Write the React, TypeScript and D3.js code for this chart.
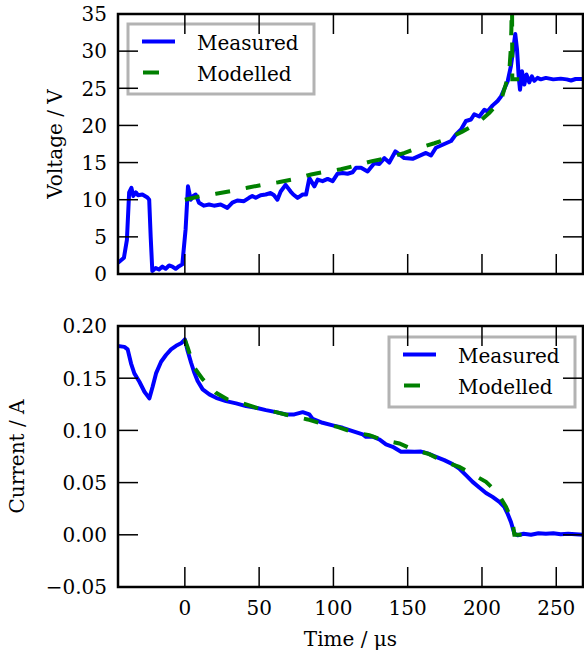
import * as d3 from 'd3';
import React from 'react';

// ---- data ----
const timeVMeasured = [-45, -41, -39, -37.5, -36, -34.7, -33, -31.5, -28.6, -25.2, -24, -23, -21.9, -19.6, -17.4, -15.1, -12.9, -10.6, -8.4, -6.2, -3.9, -1.7, 0.5, 2.1, 3.9, 5.7, 7.3, 9.5, 12.9, 16.3, 19.6, 24.1, 28.6, 32, 35.3, 39.8, 43.2, 45.4, 47.7, 51, 54.4, 57.8, 60, 62.3, 64.5, 67.8, 71.2, 73, 75.9, 79.3, 81.6, 83.8, 87.2, 89.4, 92.7, 96.1, 99.5, 102.8, 106.2, 109.5, 112.9, 115.2, 118.6, 123, 127.5, 130.9, 134.3, 137.6, 141.7, 144.4, 147.7, 153.3, 157.8, 162.3, 165.7, 169, 172.4, 175.8, 179.2, 182.5, 185.9, 189.2, 192.6, 194.8, 198.2, 201.6, 203.8, 207.2, 210.5, 212.8, 215, 217.3, 219.5, 221, 222.4, 223.6, 224.7, 225.6, 226.9, 228.5, 230, 231.8, 233.6, 235.2, 237.4, 239.6, 243, 248, 253, 257, 260, 263, 268];
const voltageMeasured = [1.5, 2.2, 4.6, 11, 11.6, 10.5, 11, 10.6, 10.7, 10.3, 10, 5, 0.4, 0.8, 0.6, 1.0, 0.7, 1.15, 1.0, 0.7, 1.05, 1.3, 6, 11.8, 10, 10.5, 10.7, 9.6, 9.2, 9.35, 9.2, 9.35, 8.9, 9.6, 9.9, 9.8, 10.25, 10.5, 10.25, 10.6, 10.7, 10.9, 10.6, 10.0, 11.1, 12.0, 11.1, 10.7, 10.25, 10.7, 10.7, 12.9, 11.8, 12.7, 12.5, 12.8, 12.5, 13.5, 13.6, 13.5, 13.7, 14.3, 14.3, 13.8, 14.9, 14.8, 15.6, 15.0, 16.5, 16.1, 15.6, 15.5, 15.9, 16.3, 15.95, 17.0, 17.3, 17.6, 17.9, 18.8, 19.45, 20.6, 20.8, 21.5, 21.2, 22.1, 21.9, 22.7, 23.3, 23.9, 24.9, 25.95, 28, 30.2, 32.3, 30.2, 26.6, 24.8, 27.3, 25.5, 26.85, 25.8, 26.6, 26.0, 26.4, 26.2, 26.4, 26.2, 26.3, 26.2, 26.05, 26.25, 26.25];

const timeVModelled = [0, 10, 21, 31, 42, 52, 63, 73, 85, 94, 105, 115, 126, 136, 148, 156, 168, 177, 187, 197, 205, 213, 216, 218.4, 219.3, 219.8, 220.2, 220.4, 225];
const voltageModelled = [10.0, 10.45, 10.8, 11.15, 11.6, 12.0, 12.35, 12.75, 13.4, 13.75, 14.1, 14.6, 15.2, 15.6, 16.3, 16.9, 17.6, 18.2, 19.2, 20.3, 21.7, 23.5, 25.5, 27.3, 30, 33, 40, 26.2, 26.2];

const timeIMeasured = [-45.2, -40.7, -38.5, -36.2, -34, -30.6, -27.2, -23.9, -21.7, -19.4, -16, -12.7, -9.3, -5.9, -2.6, -0.3, 0, 1.9, 4.2, 6.4, 8.6, 12, 16.5, 21, 27.7, 34.5, 41.2, 47.9, 54.6, 61.4, 68.1, 73.7, 79.3, 83.8, 86, 92.7, 99.5, 106.2, 112.9, 119.7, 121.9, 126.4, 130.9, 135.4, 139.9, 145.5, 149.9, 154.5, 159, 163.4, 169.1, 174.6, 180.2, 184.7, 189.2, 193.7, 198.2, 202.7, 207.1, 211.7, 215, 217.2, 219.5, 221.8, 224, 228, 233, 238, 243, 248, 253, 258, 263, 268];
const currentMeasured = [0.1808, 0.180, 0.1776, 0.164, 0.1546, 0.1466, 0.137, 0.1307, 0.1418, 0.1546, 0.1658, 0.1722, 0.1776, 0.181, 0.1834, 0.1866, 0.1872, 0.176, 0.1648, 0.1552, 0.1473, 0.1393, 0.1345, 0.1312, 0.128, 0.1259, 0.1233, 0.1217, 0.1194, 0.1175, 0.1153, 0.1153, 0.1175, 0.1153, 0.111, 0.1073, 0.1048, 0.1025, 0.0993, 0.0961, 0.0938, 0.094, 0.0913, 0.0866, 0.0843, 0.0795, 0.0797, 0.0795, 0.0797, 0.078, 0.0747, 0.0715, 0.0677, 0.0635, 0.0571, 0.0507, 0.0453, 0.0401, 0.0363, 0.0315, 0.0267, 0.0204, 0.0123, 0.0012, -0.0004, 0.001, 0.0, 0.0015, 0.001, 0.0015, 0.0005, 0.001, 0.0005, 0.0];

const timeIModelled = [0, 2, 4, 6.4, 12, 21, 28.8, 41.2, 50.1, 61.4, 70.3, 82.6, 91.7, 102.8, 112.9, 124.2, 133.1, 144.4, 153.3, 164.5, 173.5, 184.7, 193.7, 202.7, 210.5, 216.2, 220.6, 221.8, 229];
const currentModelled = [0.187, 0.179, 0.170, 0.160, 0.149, 0.136, 0.1297, 0.1249, 0.1207, 0.1175, 0.1143, 0.1105, 0.1067, 0.1034, 0.0983, 0.0955, 0.0907, 0.0875, 0.0818, 0.0773, 0.0708, 0.065, 0.058, 0.0507, 0.0401, 0.0267, 0.0123, 0.0, 0.0];

const xTicks = [0, 50, 100, 150, 200, 250];
const vTicks = [0, 5, 10, 15, 20, 25, 30, 35];
const iTicks = [-0.05, 0, 0.05, 0.1, 0.15, 0.2];
const seriesNames = ['Measured', 'Modelled'];

// ---- layout ----
const W = 584, H = 656;
const LEFT = 118, RIGHT = 583;
const FONT = '"DejaVu Serif", serif';
const BLUE = '#0000ff', GREEN = '#008000';
const TICK = 20;
const LW = 4;

const x = d3.scaleLinear().domain([-45, 268]).range([LEFT, RIGHT]);
const yV = d3.scaleLinear().domain([0, 35]).range([274, 14]);
const yI = d3.scaleLinear().domain([-0.05, 0.2]).range([587, 326]);

function pts(t: number[], v: number[]): [number, number][] {
  return t.map((d, i) => [d, v[i]]);
}

function Panel(props: {
  id: string; y: d3.ScaleLinear<number, number>; yTicks: number[]; fmt: (v: number) => string;
  meas: [number, number][]; model: [number, number][]; showX: boolean;
  legend: { x: number; y: number };
}) {
  const { id, y, yTicks, fmt, meas, model, showX, legend } = props;
  const [y0, y1] = y.range() as [number, number]; // bottom, top
  const line = d3.line<[number, number]>().x(d => x(d[0])).y(d => y(d[1]));
  const lx = legend.x, ly = legend.y;
  return (
    <g>
      <defs>
        <clipPath id={id}>
          <rect x={LEFT} y={y1} width={RIGHT - LEFT} height={y0 - y1} />
        </clipPath>
      </defs>
      <g clipPath={`url(#${id})`}>
        <path d={line(meas) || ''} fill="none" stroke={BLUE} strokeWidth={LW} strokeLinejoin="round" />
        <path d={line(model) || ''} fill="none" stroke={GREEN} strokeWidth={LW} strokeDasharray="15,16" />
      </g>
      {/* legend */}
      <rect x={lx} y={ly} width={186} height={70} fill="white" stroke="#b3b3b3" strokeWidth={3} />
      <line x1={lx + 14} x2={lx + 47} y1={ly + 17.5} y2={ly + 17.5} stroke={BLUE} strokeWidth={LW} />
      <line x1={lx + 15} x2={lx + 45} y1={ly + 48.5} y2={ly + 48.5} stroke={GREEN} strokeWidth={LW} strokeDasharray="16,20" />
      <text x={lx + 69} y={ly + 25.5} fontFamily={FONT} fontSize={20}>{seriesNames[0]}</text>
      <text x={lx + 69} y={ly + 56.5} fontFamily={FONT} fontSize={20}>{seriesNames[1]}</text>
      {/* ticks */}
      {xTicks.map(t => (
        <g key={'x' + t}>
          <line x1={x(t)} x2={x(t)} y1={y0} y2={y0 - TICK} stroke="black" strokeWidth={1.5} />
          <line x1={x(t)} x2={x(t)} y1={y1} y2={y1 + TICK} stroke="black" strokeWidth={1.5} />
          {showX && (
            <text x={x(t)} y={615} textAnchor="middle" fontFamily={FONT} fontSize={20}>{t}</text>
          )}
        </g>
      ))}
      {yTicks.map(t => (
        <g key={'y' + t}>
          <line x1={LEFT} x2={LEFT + TICK} y1={y(t)} y2={y(t)} stroke="black" strokeWidth={1.5} />
          <line x1={RIGHT} x2={RIGHT - TICK} y1={y(t)} y2={y(t)} stroke="black" strokeWidth={1.5} />
          <text x={107} y={y(t) + 7.3} textAnchor="end" fontFamily={FONT} fontSize={20}>{fmt(t)}</text>
        </g>
      ))}
      <rect x={LEFT} y={y1} width={RIGHT - LEFT} height={y0 - y1} fill="none" stroke="black" strokeWidth={2.5} />
    </g>
  );
}

export default function App() {
  const fmtI = d3.format('.2f');
  return (
    <svg width={W} height={H} style={{ position: 'absolute', left: 0, top: 0, background: 'white' }}>
      <rect x={0} y={0} width={W} height={H} fill="white" />
      <Panel id="clipV" y={yV} yTicks={vTicks} fmt={v => String(v)}
        meas={pts(timeVMeasured, voltageMeasured)} model={pts(timeVModelled, voltageModelled)}
        showX={false} legend={{ x: 128, y: 24 }} />
      <Panel id="clipI" y={yI} yTicks={iTicks} fmt={v => fmtI(v)}
        meas={pts(timeIMeasured, currentMeasured)} model={pts(timeIModelled, currentModelled)}
        showX={true} legend={{ x: 389, y: 337 }} />
      <text transform="translate(62,144) rotate(-90)" textAnchor="middle" fontFamily={FONT} fontSize={20}>Voltage / V</text>
      <text transform="translate(23.5,456.5) rotate(-90)" textAnchor="middle" fontFamily={FONT} fontSize={20}>Current / A</text>
      <text x={350.5} y={646} textAnchor="middle" fontFamily={FONT} fontSize={20}>Time / μs</text>
    </svg>
  );
}
